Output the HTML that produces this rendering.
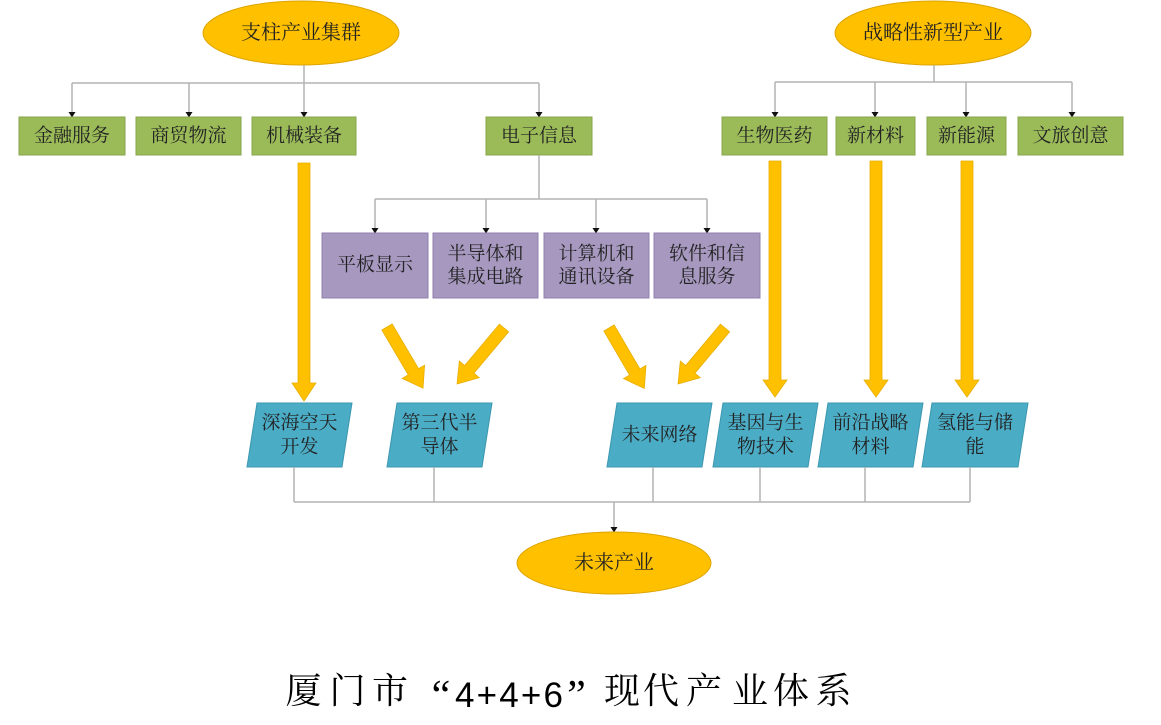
<!DOCTYPE html>
<html>
<head>
<meta charset="utf-8">
<style>
  html,body{margin:0;padding:0;background:#fff;}
  svg{display:block;}
  .t{font-family:"Liberation Serif","Noto Serif CJK SC",serif;font-size:19px;fill:#222;text-anchor:middle;dominant-baseline:central;}
  .te{font-size:20px;}
  .ti{font-family:"Liberation Serif","Noto Serif CJK SC",serif;font-size:36px;fill:#000;text-anchor:middle;dominant-baseline:central;}
  .ln{stroke:#b3b3b3;stroke-width:1.5;fill:none;}
  .ah{fill:#111;}
  .ya{fill:#FFC000;stroke:#E8AE00;stroke-width:0.8;}
  .g{fill:#9BBB59;stroke:#86A64A;stroke-width:1;}
  .p{fill:#A698BF;stroke:#8F80AD;stroke-width:1;}
  .c{fill:#4BACC6;stroke:#3C97B0;stroke-width:1;}
  .el{fill:#FFC000;stroke:#DDA400;stroke-width:1;}
</style>
</head>
<body>
<svg width="1161" height="725" viewBox="0 0 1161 725" xmlns="http://www.w3.org/2000/svg">
  <defs>
    <polygon id="arr" points="0,-6 0,6 0,6" />
  </defs>

  <!-- Top ellipses -->
  <ellipse class="el" cx="301" cy="33" rx="98" ry="32"/>
  <text class="t te" x="301" y="33">支柱产业集群</text>
  <ellipse class="el" cx="933" cy="33" rx="98" ry="32"/>
  <text class="t te" x="933" y="33">战略性新型产业</text>

  <!-- Left tree connectors -->
  <path class="ln" d="M304,65 V83 M72,83 H539 M72,83 V114 M189,83 V114 M304,83 V114 M539,83 V114"/>
  <polygon class="ah" points="68.5,112 75.5,112 72,117.5"/>
  <polygon class="ah" points="185.5,112 192.5,112 189,117.5"/>
  <polygon class="ah" points="300.5,112 307.5,112 304,117.5"/>
  <polygon class="ah" points="535.5,112 542.5,112 539,117.5"/>

  <!-- Right tree connectors -->
  <path class="ln" d="M934,65 V82 M775,82 H1072 M775,82 V114 M875,82 V114 M966,82 V114 M1072,82 V114"/>
  <polygon class="ah" points="771.5,112 778.5,112 775,117.5"/>
  <polygon class="ah" points="871.5,112 878.5,112 875,117.5"/>
  <polygon class="ah" points="962.5,112 969.5,112 966,117.5"/>
  <polygon class="ah" points="1068.5,112 1075.5,112 1072,117.5"/>

  <!-- Green boxes -->
  <rect class="g" x="19" y="117" width="106" height="38"/>
  <text class="t" x="72" y="136">金融服务</text>
  <rect class="g" x="136" y="117" width="105" height="38"/>
  <text class="t" x="188.5" y="136">商贸物流</text>
  <rect class="g" x="252" y="117" width="104" height="38"/>
  <text class="t" x="304" y="136">机械装备</text>
  <rect class="g" x="486" y="117" width="106" height="38"/>
  <text class="t" x="539" y="136">电子信息</text>
  <rect class="g" x="722" y="117" width="105" height="38"/>
  <text class="t" x="774.5" y="136">生物医药</text>
  <rect class="g" x="836" y="117" width="79" height="38"/>
  <text class="t" x="875.5" y="136">新材料</text>
  <rect class="g" x="927" y="117" width="79" height="38"/>
  <text class="t" x="966.5" y="136">新能源</text>
  <rect class="g" x="1018" y="117" width="105" height="38"/>
  <text class="t" x="1070.5" y="136">文旅创意</text>

  <!-- Electronic info subtree -->
  <path class="ln" d="M539,155 V199 M375,199 H707 M375,199 V230 M486,199 V230 M596,199 V230 M707,199 V230"/>
  <polygon class="ah" points="371.5,228 378.5,228 375,233.5"/>
  <polygon class="ah" points="482.5,228 489.5,228 486,233.5"/>
  <polygon class="ah" points="592.5,228 599.5,228 596,233.5"/>
  <polygon class="ah" points="703.5,228 710.5,228 707,233.5"/>

  <!-- Purple boxes -->
  <rect class="p" x="322" y="233" width="106" height="65"/>
  <text class="t" x="375" y="265">平板显示</text>
  <rect class="p" x="433" y="233" width="105" height="65"/>
  <text class="t" x="485.5" y="254">半导体和</text>
  <text class="t" x="485.5" y="277">集成电路</text>
  <rect class="p" x="544" y="233" width="105" height="65"/>
  <text class="t" x="596.5" y="254">计算机和</text>
  <text class="t" x="596.5" y="277">通讯设备</text>
  <rect class="p" x="654" y="233" width="106" height="65"/>
  <text class="t" x="707" y="254">软件和信</text>
  <text class="t" x="707" y="277">息服务</text>

  <!-- Yellow vertical arrows -->
  <polygon class="ya" points="298,163 310,163 310,383 316,383 304,401 292,383 298,383"/>
  <polygon class="ya" points="769,161 781,161 781,380 787,380 775,397 763,380 769,380"/>
  <polygon class="ya" points="870,161 882,161 882,380 888,380 876,397 864,380 870,380"/>
  <polygon class="ya" points="961,161 973,161 973,380 979,380 967,397 955,380 961,380"/>

  <!-- Yellow diagonal arrows -->
  <g transform="translate(387,327) rotate(59.5)">
    <polygon class="ya" points="0,-6 52,-6 52,-13 71,0 52,13 52,6 0,6"/>
  </g>
  <g transform="translate(504,328) rotate(130)">
    <polygon class="ya" points="0,-6 54,-6 54,-13 73,0 54,13 54,6 0,6"/>
  </g>
  <g transform="translate(609,328) rotate(59.7)">
    <polygon class="ya" points="0,-6 51,-6 51,-13 70,0 51,13 51,6 0,6"/>
  </g>
  <g transform="translate(725,328) rotate(130)">
    <polygon class="ya" points="0,-6 54,-6 54,-13 73,0 54,13 54,6 0,6"/>
  </g>

  <!-- Teal parallelograms -->
  <polygon class="c" points="257,403 352,403 342,467 247,467"/>
  <text class="t" x="299.5" y="423">深海空天</text>
  <text class="t" x="299.5" y="447">开发</text>

  <polygon class="c" points="397,403 492,403 482,467 387,467"/>
  <text class="t" x="439.5" y="423">第三代半</text>
  <text class="t" x="439.5" y="447">导体</text>

  <polygon class="c" points="617,403 712,403 702,467 607,467"/>
  <text class="t" x="659.5" y="435">未来网络</text>

  <polygon class="c" points="723,403 818,403 808,467 713,467"/>
  <text class="t" x="765.5" y="423">基因与生</text>
  <text class="t" x="765.5" y="447">物技术</text>

  <polygon class="c" points="828,403 923,403 913,467 818,467"/>
  <text class="t" x="870.5" y="423">前沿战略</text>
  <text class="t" x="870.5" y="447">材料</text>

  <polygon class="c" points="932,403 1028,403 1018,467 922,467"/>
  <text class="t" x="975" y="423">氢能与储</text>
  <text class="t" x="975" y="447">能</text>

  <!-- Bottom connectors -->
  <path class="ln" d="M294,467 V502 M434,467 V502 M653,467 V502 M760,467 V502 M865,467 V502 M970,467 V502 M294,502 H970 M614,502 V528"/>
  <polygon class="ah" points="610.5,527 617.5,527 614,532.5"/>

  <!-- Bottom ellipse -->
  <ellipse class="el" cx="614" cy="563" rx="97" ry="31"/>
  <text class="t te" x="614" y="563">未来产业</text>

  <!-- Title -->
  <text class="ti" x="303.5" y="691">厦</text>
  <text class="ti" x="347.5" y="691">门</text>
  <text class="ti" x="390" y="691">市</text>
  <text x="441" y="709" font-family="Liberation Serif, serif" font-size="42" text-anchor="middle" fill="#000">“</text>
  <text x="455" y="707" font-family="Liberation Sans, sans-serif" font-size="35" fill="#000" textLength="108" lengthAdjust="spacing">4+4+6</text>
  <text x="576.5" y="709" font-family="Liberation Serif, serif" font-size="42" text-anchor="middle" fill="#000">”</text>
  <text class="ti" x="622" y="691">现</text>
  <text class="ti" x="661" y="691">代</text>
  <text class="ti" x="704" y="691">产</text>
  <text class="ti" x="750" y="691">业</text>
  <text class="ti" x="791" y="691">体</text>
  <text class="ti" x="833.5" y="691">系</text>
</svg>
</body>
</html>
